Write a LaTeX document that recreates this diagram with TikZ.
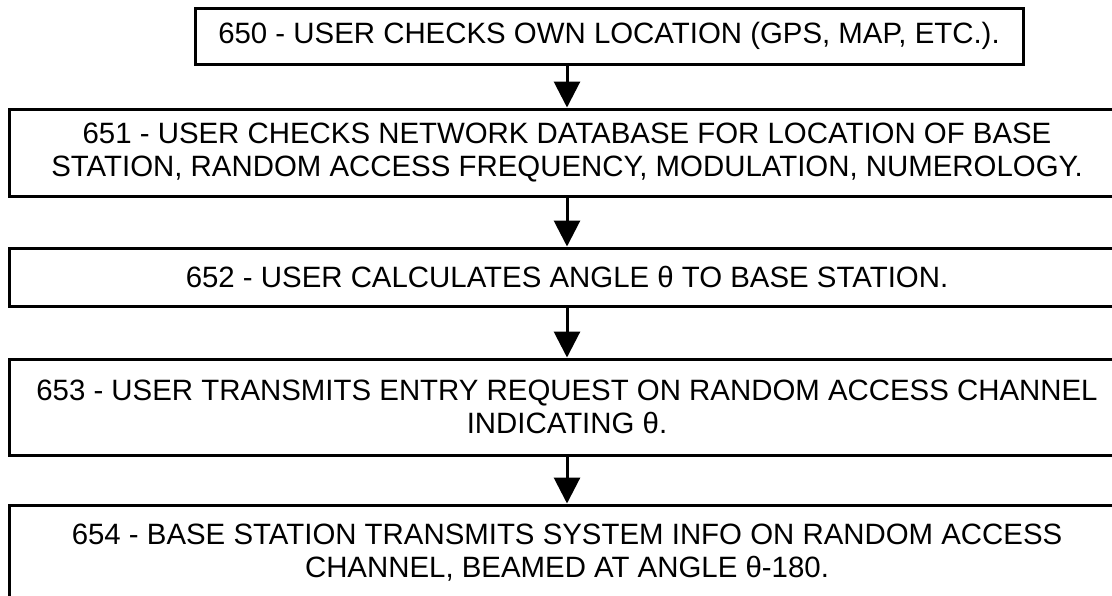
\documentclass[tikz,border=0pt]{standalone}
\usepackage{fontspec}
\setmainfont{Liberation Sans}
\usetikzlibrary{arrows.meta}

\begin{document}
\begin{tikzpicture}
[-{Triangle[width=13pt,length=13pt]},line width=1.5pt,%
  x=0.5pt,y=-0.5pt,%
  every node/.style={shape=rectangle,draw,line width=1.5pt,align=center,
    font=\fontsize{14.7}{16.5}\selectfont},%
  stepbox/.style={minimum width=558pt}]
\useasboundingbox (0,0) rectangle (1112,595);
\node[minimum width=414pt,minimum height=28pt] (s650) at (609,36)
  {650 - USER CHECKS OWN LOCATION (GPS, MAP, ETC.).};
\node[stepbox,minimum height=43.5pt] (s651) at (567,152.5)
  {651 - USER CHECKS NETWORK DATABASE FOR LOCATION OF BASE\\
   STATION, RANDOM ACCESS FREQUENCY, MODULATION, NUMEROLOGY.};
\node[stepbox,minimum height=29pt] (s652) at (567,277)
  {652 - USER CALCULATES ANGLE θ TO BASE STATION.};
\node[stepbox,minimum height=48pt] (s653) at (567,407)
  {653 - USER TRANSMITS ENTRY REQUEST ON RANDOM ACCESS CHANNEL\\
   INDICATING θ.};
\node[stepbox,minimum height=47.5pt] (s654) at (567,552.5)
  {654 - BASE STATION TRANSMITS SYSTEM INFO ON RANDOM ACCESS\\
   CHANNEL, BEAMED AT ANGLE θ-180.};
\draw (s650.south -| s651.north) -- (s651.north);
\draw (s651) -- (s652);
\draw (s652) -- (s653);
\draw (s653) -- (s654);
\end{tikzpicture}
\end{document}
